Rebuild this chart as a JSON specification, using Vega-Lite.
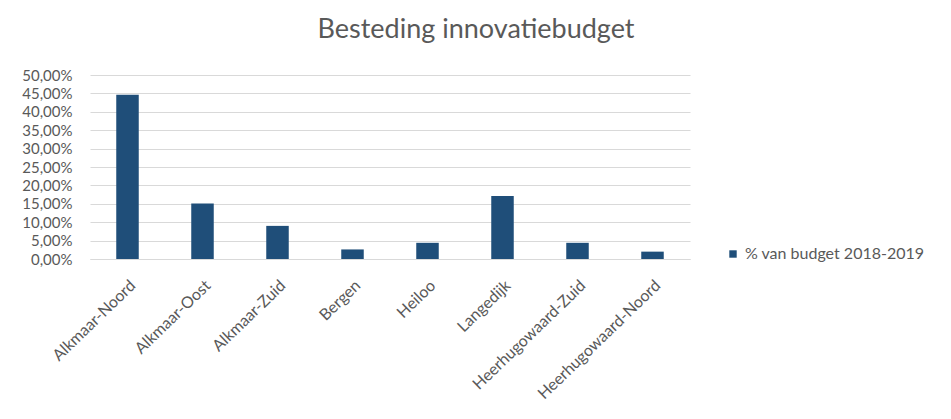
{
  "$schema": "https://vega.github.io/schema/vega-lite/v6.json",
  "description": "Besteding innovatiebudget",
  "autosize": {"type": "none"},
  "padding": {"left": 90, "top": 75, "right": 261, "bottom": 160},
  "width": 600,
  "height": 184,
  "title": {
    "text": "Besteding innovatiebudget",
    "fontSize": 27,
    "font": "Lato",
    "fontWeight": "normal",
    "color": "#595959",
    "anchor": "middle",
    "dx": 86,
    "offset": 24
  },
  "data": {
    "values": [
      {"gebied": "Alkmaar-Noord", "aandeel": 0.446, "reeks": "% van budget 2018-2019"},
      {"gebied": "Alkmaar-Oost", "aandeel": 0.151, "reeks": "% van budget 2018-2019"},
      {"gebied": "Alkmaar-Zuid", "aandeel": 0.09, "reeks": "% van budget 2018-2019"},
      {"gebied": "Bergen", "aandeel": 0.026, "reeks": "% van budget 2018-2019"},
      {"gebied": "Heiloo", "aandeel": 0.044, "reeks": "% van budget 2018-2019"},
      {"gebied": "Langedijk", "aandeel": 0.171, "reeks": "% van budget 2018-2019"},
      {"gebied": "Heerhugowaard-Zuid", "aandeel": 0.044, "reeks": "% van budget 2018-2019"},
      {"gebied": "Heerhugowaard-Noord", "aandeel": 0.02, "reeks": "% van budget 2018-2019"}
    ]
  },
  "mark": {"type": "bar"},
  "encoding": {
    "x": {
      "field": "gebied",
      "type": "nominal",
      "sort": null,
      "title": null,
      "scale": {"paddingInner": 0.7, "paddingOuter": 0.35},
      "axis": {
        "labelAngle": -44,
        "labelFont": "Lato",
        "labelFontSize": 16,
        "labelColor": "#595959",
        "labelPadding": 18,
        "ticks": false,
        "domainColor": "#d9d9d9",
        "grid": false
      }
    },
    "y": {
      "field": "aandeel",
      "type": "quantitative",
      "title": null,
      "scale": {"domain": [0, 0.5], "nice": false},
      "axis": {
        "values": [0, 0.05, 0.1, 0.15, 0.2, 0.25, 0.3, 0.35, 0.4, 0.45, 0.5],
        "labelExpr": "replace(format(datum.value, '.2%'), '.', ',')",
        "labelFont": "Lato",
        "labelFontSize": 15,
        "labelColor": "#595959",
        "labelPadding": 18,
        "ticks": false,
        "domain": false,
        "gridColor": "#d9d9d9"
      }
    },
    "color": {
      "field": "reeks",
      "type": "nominal",
      "title": null,
      "scale": {"range": ["#1f4e79"]},
      "legend": {
        "orient": "none",
        "legendX": 635,
        "legendY": 171,
        "symbolType": "square",
        "symbolSize": 55,
        "labelFont": "Lato",
        "labelFontSize": 16,
        "labelLimit": 0,
        "labelColor": "#595959"
      }
    }
  },
  "config": {
    "view": {"stroke": null}
  }
}
